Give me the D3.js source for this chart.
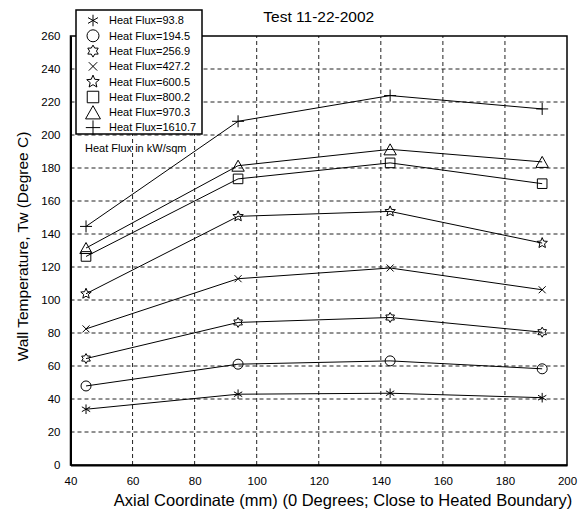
<!DOCTYPE html>
<html>
<head>
<meta charset="utf-8">
<script src="https://cdn.jsdelivr.net/npm/d3@7"></script>
<style>
  html, body { margin: 0; padding: 0; background: #fff; }
  svg { display: block; font-family: "Liberation Sans", Arial, Helvetica, sans-serif; }
</style>
</head>
<body>
<svg id="chart" width="588" height="512"></svg>
<script>
// ---- data ----
const xPositions = [45, 94, 143, 192];
const seriesNames = ["Heat Flux=93.8", "Heat Flux=194.5", "Heat Flux=256.9", "Heat Flux=427.2",
                     "Heat Flux=600.5", "Heat Flux=800.2", "Heat Flux=970.3", "Heat Flux=1610.7"];
const hf93_8   = [33.8, 42.9, 43.5, 40.8];
const hf194_5  = [47.9, 61.1, 63.1, 58.3];
const hf256_9  = [64.5, 86.4, 89.4, 80.5];
const hf427_2  = [82.5, 112.9, 119.4, 106.2];
const hf600_5  = [103.8, 150.7, 153.7, 134.5];
const hf800_2  = [126.4, 173.4, 183.1, 170.5];
const hf970_3  = [131.5, 181.4, 191.3, 183.7];
const hf1610_7 = [144.6, 208.3, 223.9, 215.8];
const seriesValues = [hf93_8, hf194_5, hf256_9, hf427_2, hf600_5, hf800_2, hf970_3, hf1610_7];
const markerTypes = ["asterisk", "circle", "hexagram", "cross", "star", "square", "triangle", "plus"];
const xTicks = [40, 60, 80, 100, 120, 140, 160, 180, 200];
const yTicks = [0, 20, 40, 60, 80, 100, 120, 140, 160, 180, 200, 220, 240, 260];
const titleText = "Test 11-22-2002";
const xLabel = "Axial Coordinate (mm) (0 Degrees; Close to Heated Boundary)";
const yLabel = "Wall Temperature, Tw (Degree C)";
const noteText = "Heat Flux in kW/sqm";

// ---- layout ----
const svg = d3.select("#chart");
const x = d3.scaleLinear().domain([40, 200]).range([70.5, 567]);
const y = d3.scaleLinear().domain([0, 260]).range([465, 36]);
const [x0, x1] = x.range();
const [yb, yt] = y.range();

// marker path generator
function markerPath(type, s) {
  const p = [];
  if (type === "asterisk") {
    const r = 4.8 * s;
    for (let k = 0; k < 3; k++) {
      const a = Math.PI / 2 + k * Math.PI / 3;
      p.push(`M${r*Math.cos(a)},${-r*Math.sin(a)}L${-r*Math.cos(a)},${r*Math.sin(a)}`);
    }
    return p.join("");
  }
  if (type === "circle") {
    const r = 5 * s;
    return `M${r},0A${r},${r} 0 1,1 ${-r},0A${r},${r} 0 1,1 ${r},0Z`;
  }
  if (type === "hexagram") {
    const R = 5 * s, ri = R / Math.sqrt(3);
    const pts = [];
    for (let k = 0; k < 12; k++) {
      const a = -Math.PI / 2 + k * Math.PI / 6;
      const rr = k % 2 === 0 ? R : ri;
      pts.push([rr * Math.cos(a), rr * Math.sin(a)]);
    }
    return "M" + pts.map(q => q.join(",")).join("L") + "Z";
  }
  if (type === "cross") {
    const r = 3.5 * s;
    return `M${-r},${-r}L${r},${r}M${-r},${r}L${r},${-r}`;
  }
  if (type === "star") {
    const R = 5.5 * s, ri = R * 0.45;
    const pts = [];
    for (let k = 0; k < 10; k++) {
      const a = -Math.PI / 2 + k * Math.PI / 5;
      const rr = k % 2 === 0 ? R : ri;
      pts.push([rr * Math.cos(a), rr * Math.sin(a)]);
    }
    return "M" + pts.map(q => q.join(",")).join("L") + "Z";
  }
  if (type === "square") {
    const h = 4.8 * s;
    return `M${-h},${-h}L${h},${-h}L${h},${h}L${-h},${h}Z`;
  }
  if (type === "triangle") {
    const w = 6.2 * s, h = 5.5 * s;
    return `M0,${-h}L${w},${h}L${-w},${h}Z`;
  }
  if (type === "plus") {
    const r = 6 * s;
    return `M${-r},0L${r},0M0,${-r}L0,${r}`;
  }
  return "";
}

// ---- gridlines ----
const grid = svg.append("g").attr("stroke", "#222").attr("stroke-width", 1)
  .attr("stroke-dasharray", "4,3").attr("fill", "none");
grid.selectAll("line.v").data(xTicks.slice(1, -1)).join("line")
  .attr("x1", d => x(d)).attr("x2", d => x(d)).attr("y1", yb).attr("y2", yt);
grid.selectAll("line.h").data(yTicks.slice(1, -1)).join("line")
  .attr("x1", x0).attr("x2", x1).attr("y1", d => y(d)).attr("y2", d => y(d));

// ---- frame ----
svg.append("rect").attr("x", x0).attr("y", yt).attr("width", x1 - x0).attr("height", yb - yt)
  .attr("fill", "none").attr("stroke", "#000").attr("stroke-width", 1.5);

// ---- axes ----
const xAxis = d3.axisBottom(x).tickValues(xTicks).tickSize(0).tickPadding(12).tickFormat(d3.format("d"));
const yAxis = d3.axisLeft(y).tickValues(yTicks).tickSize(0).tickPadding(10).tickFormat(d3.format("d"));
const gx = svg.append("g").attr("transform", `translate(0,${yb})`).call(xAxis);
const gy = svg.append("g").attr("transform", `translate(${x0},0)`).call(yAxis);
[gx, gy].forEach(g => {
  g.select(".domain").attr("stroke", "#000").attr("stroke-width", 2);
  g.selectAll("text").attr("font-size", "11.5px").attr("fill", "#000")
    .style("font-family", '"Liberation Sans", Arial, sans-serif');
});

// ---- series lines and markers ----
const line = d3.line().x((d, i) => x(xPositions[i])).y(d => y(d));
const sg = svg.append("g");
seriesValues.forEach((vals, si) => {
  sg.append("path").attr("d", line(vals)).attr("fill", "none")
    .attr("stroke", "#000").attr("stroke-width", 1);
  sg.selectAll(null).data(vals).join("path")
    .attr("transform", (d, i) => `translate(${x(xPositions[i])},${y(d)})`)
    .attr("d", markerPath(markerTypes[si], 1))
    .attr("fill", "none").attr("stroke", "#000").attr("stroke-width", 1);
});

// ---- legend ----
const lg = svg.append("g");
lg.append("rect").attr("x", 76).attr("y", 10).attr("width", 126).attr("height", 124)
  .attr("fill", "#fff").attr("stroke", "#000").attr("stroke-width", 1.5);
seriesNames.forEach((name, i) => {
  const cy = 20.5 + i * 15.3;
  lg.append("path").attr("transform", `translate(93,${cy})`)
    .attr("d", markerPath(markerTypes[i], 1.2))
    .attr("fill", "none").attr("stroke", "#000").attr("stroke-width", 1);
  lg.append("text").attr("x", 109).attr("y", cy).attr("dy", "0.35em")
    .attr("font-size", "11px").text(name);
});

// note
svg.append("text").attr("x", 85).attr("y", 148).attr("dy", "0.35em")
  .attr("font-size", "11px").text(noteText);

// ---- titles ----
svg.append("text").attr("x", (x0 + x1) / 2).attr("y", 17).attr("dy", "0.35em")
  .attr("text-anchor", "middle").attr("font-size", "15.5px").text(titleText);
svg.append("text").attr("x", 343).attr("y", 500).attr("dy", "0.35em")
  .attr("text-anchor", "middle").attr("font-size", "16.5px").text(xLabel);
svg.append("text").attr("transform", "translate(23,246.5) rotate(-90)").attr("dy", "0.35em")
  .attr("text-anchor", "middle").attr("font-size", "15.5px").text(yLabel);
</script>
</body>
</html>
